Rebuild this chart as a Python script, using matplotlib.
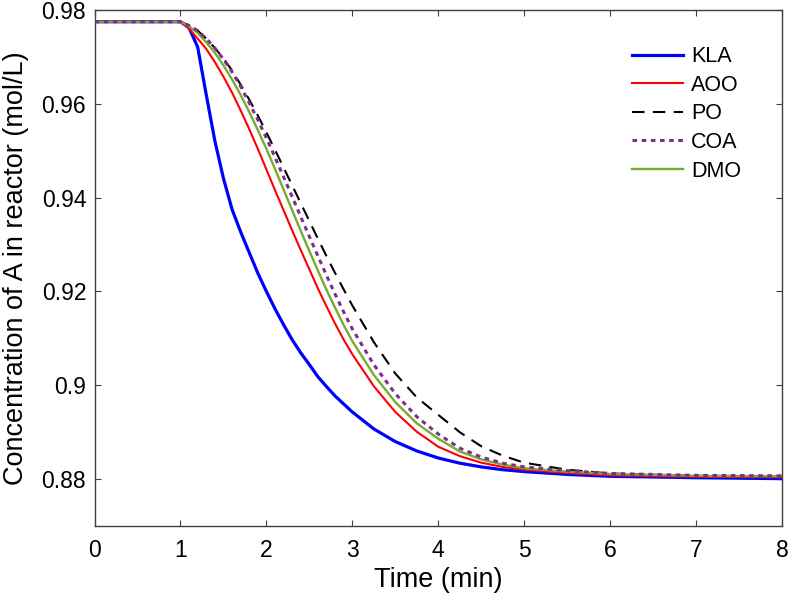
import matplotlib
matplotlib.use("Agg")
import matplotlib.pyplot as plt

plt.rcParams['font.family'] = ['Liberation Sans', 'DejaVu Sans']

time = [0, 1.0, 1.1, 1.2, 1.3, 1.4, 1.5, 1.6, 1.7, 1.8, 1.9, 2.0, 2.1, 2.2, 2.3,
        2.4, 2.5, 2.6, 2.7, 2.8, 2.9, 3.0, 3.25, 3.5, 3.75, 4.0, 4.25, 4.5, 4.75,
        5.0, 5.5, 6.0, 7.0, 8.0]

kla = [0.9775, 0.9775, 0.9762, 0.9721, 0.9619, 0.9521, 0.9441, 0.9375, 0.9327,
       0.9283, 0.9239, 0.9200, 0.9163, 0.9129, 0.9097, 0.9069, 0.9044, 0.9018,
       0.8997, 0.8977, 0.8960, 0.8943, 0.8907, 0.8880, 0.8860, 0.8845, 0.8834,
       0.8826, 0.8820, 0.8816, 0.8810, 0.8806, 0.8803, 0.8801]

aoo = [0.9775, 0.9775, 0.9760, 0.9739, 0.9717, 0.9689, 0.9658, 0.9624, 0.9586,
       0.9546, 0.9504, 0.9460, 0.9416, 0.9373, 0.9330, 0.9288, 0.9247, 0.9206,
       0.9168, 0.9131, 0.9097, 0.9066, 0.8998, 0.8943, 0.8901, 0.8869, 0.8849,
       0.8835, 0.8826, 0.8820, 0.8813, 0.8808, 0.8805, 0.8804]

po = [0.9775, 0.9775, 0.9767, 0.9756, 0.9739, 0.9719, 0.9697, 0.9671, 0.9641,
      0.9609, 0.9575, 0.9539, 0.9502, 0.9464, 0.9426, 0.9388, 0.9350, 0.9312,
      0.9275, 0.9239, 0.9204, 0.9170, 0.9092, 0.9025, 0.8974, 0.8937, 0.8900,
      0.8870, 0.8850, 0.8835, 0.8820, 0.8812, 0.8807, 0.8806]

coa = [0.9775, 0.9775, 0.9767, 0.9756, 0.9739, 0.9719, 0.9695, 0.9668, 0.9637,
       0.9602, 0.9566, 0.9527, 0.9486, 0.9444, 0.9402, 0.9359, 0.9317, 0.9275,
       0.9234, 0.9194, 0.9156, 0.9120, 0.9044, 0.8982, 0.8933, 0.8896, 0.8866,
       0.8847, 0.8834, 0.8826, 0.8818, 0.8812, 0.8808, 0.8807]

dmo = [0.9775, 0.9775, 0.9765, 0.9751, 0.9731, 0.9709, 0.9682, 0.9652, 0.9619,
       0.9583, 0.9544, 0.9504, 0.9461, 0.9417, 0.9373, 0.9329, 0.9286, 0.9244,
       0.9203, 0.9165, 0.9128, 0.9094, 0.9022, 0.8964, 0.8919, 0.8886, 0.8859,
       0.8842, 0.8831, 0.8823, 0.8816, 0.8811, 0.8807, 0.8806]

x_ticks = [0, 1, 2, 3, 4, 5, 6, 7, 8]
y_ticks = [0.88, 0.90, 0.92, 0.94, 0.96, 0.98]
y_tick_labels = ['0.88', '0.9', '0.92', '0.94', '0.96', '0.98']

fig = plt.figure(figsize=(7.88, 6.0), dpi=100)
ax = fig.add_axes([0.12, 0.1233, 0.8724, 0.86])

ax.plot(time, kla, color='#0000FF', lw=2.3, label='KLA', zorder=3)
ax.plot(time, aoo, color='#FF0000', lw=1.5, label='AOO', zorder=3)
ax.plot(time, po, color='black', lw=1.5, ls=(0, (6, 4)), label='PO', zorder=3)
ax.plot(time, coa, color='#7E2F8E', lw=2.2, ls=(0, (1.5, 1.5)), label='COA', zorder=4)
ax.plot(time, dmo, color='#77AC30', lw=1.7, label='DMO', zorder=3)

ax.set_xlim(0, 8)
ax.set_ylim(0.87, 0.98)
ax.set_xticks(x_ticks)
ax.set_yticks(y_ticks)
ax.set_yticklabels(y_tick_labels)
ax.tick_params(direction='in', top=True, right=True, length=4, width=0.8,
               labelsize=16.5, colors='#404040', labelcolor='black')
ax.tick_params(axis='y', pad=6)
ax.tick_params(axis='x', pad=9)
for s in ax.spines.values():
    s.set_color('#404040')
    s.set_linewidth(1.0)

ax.set_xlabel('Time (min)', fontsize=19.5, labelpad=4)
ax.set_ylabel('Concentration of A in reactor (mol/L)', fontsize=19.5, labelpad=9)

leg = ax.legend(loc='upper left', bbox_to_anchor=(0.753, 0.967), frameon=False,
                fontsize=15.5, handlelength=2.4, handletextpad=0.37,
                labelspacing=0.35)

fig.savefig('out.png', dpi=100)
